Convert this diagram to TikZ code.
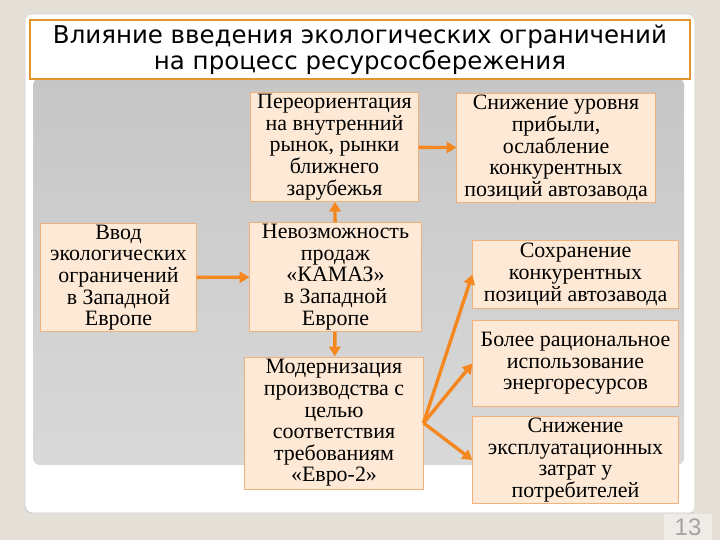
\documentclass[tikz,border=0pt]{standalone}
\usepackage{fontspec}
\setmainfont{Liberation Serif}
\newfontfamily\titlefont{DejaVu Sans}
\newfontfamily\numfont{Liberation Sans}
\usepackage{tikz}
\usetikzlibrary{arrows.meta,positioning}
\definecolor{pagebg}{HTML}{E4E0D7}
\definecolor{panelgray}{HTML}{C6C6C6}
\definecolor{panelgraylight}{HTML}{D9D9D9}
\definecolor{boxfill}{HTML}{FDE9D5}
\definecolor{boxline}{HTML}{F0B27C}
\definecolor{titleline}{HTML}{E3962A}
\definecolor{myorange}{HTML}{F5871F}
\definecolor{numgray}{HTML}{A3A3A3}
\tikzset{
  box/.style={draw=boxline, line width=0.7pt, fill=boxfill, align=center, inner sep=1pt,
              font=\fontsize{15.6}{15.4}\selectfont},
  arr/.style={-{Triangle[length=7pt,width=8pt]}, line width=2.4pt, draw=myorange},
}

\begin{document}
\begin{tikzpicture}[x=0.025cm, y=-0.025cm]
    \useasboundingbox (0,0) rectangle (720,540);
    \fill[pagebg] (0,0) rectangle (720,540);
    \draw[white, fill=white, rounded corners=5pt, line width=0.5pt] (25,15) rectangle (694,513);
    \draw[numgray!60, line width=0.6pt, rounded corners=5pt] (25,20) -- (25,513) -- (694,513);
    \shade[top color=panelgray, bottom color=panelgraylight, rounded corners=5pt] (33,78) rectangle (684,465);
    \node[draw=titleline, line width=1.5pt, fill=white, minimum width=16.5cm, minimum height=1.38cm,
          align=center, font=\titlefont\fontsize{17.4}{16.6}\selectfont] (title) at (360,49.5)
          {Влияние введения экологических ограничений\\на процесс ресурсосбережения};
    \node[box, minimum width=4.18cm, minimum height=2.65cm] (b1) at (334.5,147)
          {Переориентация\\на внутренний\\рынок, рынки\\ближнего\\зарубежья};
    \node[box, minimum width=4.95cm, minimum height=2.7cm] (b2) at (556,148)
          {Снижение уровня\\прибыли,\\ослабление\\конкурентных\\позиций автозавода};
    \node[box, minimum width=3.88cm, minimum height=2.68cm] (b3) at (118.5,277.5)
          {Ввод\\экологических\\ограничений\\в Западной\\Европе};
    \node[box, minimum width=4.28cm, minimum height=2.65cm] (b4) at (335.5,277)
          {Невозможность\\продаж\\«КАМАЗ»\\в Западной\\Европе};
    \node[box, minimum width=5.13cm, minimum height=1.68cm] (b5) at (575.5,274.5)
          {Сохранение\\конкурентных\\позиций автозавода};
    \node[box, minimum width=5.13cm, minimum height=2.13cm] (b6) at (575.5,363.5)
          {Более рациональное\\использование\\энергоресурсов};
    \node[box, minimum width=4.45cm, minimum height=3.3cm] (b7) at (334,423)
          {Модернизация\\производства с\\целью\\соответствия\\требованиям\\«Евро-2»};
    \node[box, minimum width=5.13cm, minimum height=2.15cm] (b8) at (575.5,460)
          {Снижение\\эксплуатационных\\затрат у\\потребителей};
    \node[fill=pagebg!60!white, minimum width=1.2cm, minimum height=0.66cm, text=numgray,
          font=\numfont\fontsize{17}{17}\selectfont] (num) at (688,527) {13};
    \draw[arr] (b3) -- (b4); \draw[arr] (b4) -- (b1); \draw[arr] (b1) -- (b2); \draw[arr] (b4) -- (b7);
    \draw[arr] (b7.east) -- (b5.west); \draw[arr] (b7.east) -- (b6.west); \draw[arr] (b7.east) -- (b8.west);
\end{tikzpicture}
\end{document}
